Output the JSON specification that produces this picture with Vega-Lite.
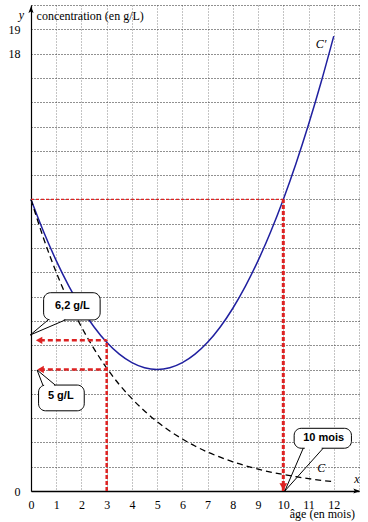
{
  "$schema": "https://vega.github.io/schema/vega-lite/v6.json",
  "width": 328,
  "height": 486,
  "autosize": "none",
  "padding": {"left": 31, "top": 5, "right": 9, "bottom": 31},
  "background": "white",
  "config": {"view": {"stroke": null}, "font": "Liberation Serif"},
  "datasets": {
    "f": [
      {"x": 0, "y": 12.0}, {"x": 0.5, "y": 10.67}, {"x": 1, "y": 9.48}, {"x": 1.5, "y": 8.43},
      {"x": 2, "y": 7.52}, {"x": 2.5, "y": 6.75}, {"x": 3, "y": 6.12}, {"x": 3.5, "y": 5.63},
      {"x": 4, "y": 5.28}, {"x": 4.5, "y": 5.07}, {"x": 5, "y": 5.0}, {"x": 5.5, "y": 5.07},
      {"x": 6, "y": 5.28}, {"x": 6.5, "y": 5.63}, {"x": 7, "y": 6.12}, {"x": 7.5, "y": 6.75},
      {"x": 8, "y": 7.52}, {"x": 8.5, "y": 8.43}, {"x": 9, "y": 9.48}, {"x": 9.5, "y": 10.67},
      {"x": 10, "y": 12.0}, {"x": 10.5, "y": 13.47}, {"x": 11, "y": 15.08}, {"x": 11.5, "y": 16.83},
      {"x": 12, "y": 18.72}
    ],
    "g": [
      {"x": 0, "y": 12.0}, {"x": 0.5, "y": 10.39}, {"x": 1, "y": 9.0}, {"x": 1.5, "y": 7.79},
      {"x": 2, "y": 6.75}, {"x": 2.5, "y": 5.85}, {"x": 3, "y": 5.06}, {"x": 3.5, "y": 4.38},
      {"x": 4, "y": 3.8}, {"x": 4.5, "y": 3.29}, {"x": 5, "y": 2.85}, {"x": 5.5, "y": 2.47},
      {"x": 6, "y": 2.14}, {"x": 6.5, "y": 1.85}, {"x": 7, "y": 1.6}, {"x": 7.5, "y": 1.39},
      {"x": 8, "y": 1.2}, {"x": 8.5, "y": 1.04}, {"x": 9, "y": 0.9}, {"x": 9.5, "y": 0.78},
      {"x": 10, "y": 0.68}, {"x": 10.5, "y": 0.59}, {"x": 11, "y": 0.51}, {"x": 11.5, "y": 0.44},
      {"x": 12, "y": 0.38}
    ]
  },
  "encoding": {
    "x": {"field": "x", "type": "quantitative", "scale": {"domain": [0, 13], "nice": false},
      "axis": {"values": [0,1,2,3,4,5,6,7,8,9,10,11,12,13], "grid": true, "gridColor": "#888", "gridDash": [1, 2], "gridWidth": 1,
        "ticks": false, "domainColor": "black", "domainWidth": 1.5, "labelFont": "Liberation Serif", "labelFontSize": 12,
        "labelColor": "black", "labelPadding": 8, "labelFlush": false, "labelOverlap": false,
        "labelExpr": "datum.value <= 12 ? datum.label : ''", "title": null}},
    "y": {"field": "y", "type": "quantitative", "scale": {"domain": [0, 20], "nice": false},
      "axis": {"values": [0,1,2,3,4,5,6,7,8,9,10,11,12,13,14,15,16,17,18,19,20], "grid": true, "gridColor": "#222", "gridDash": [1, 2], "gridWidth": 1,
        "ticks": false, "domainColor": "black", "domainWidth": 1.2, "labelFont": "Liberation Serif", "labelFontSize": 12,
        "labelColor": "black", "labelPadding": 11, "labelFlush": false, "labelOverlap": false,
        "labelExpr": "(datum.value == 19 || datum.value == 18 || datum.value == 0) ? datum.label : ''", "title": null}}
  },
  "layer": [
    {
      "data": {"name": "f"},
      "mark": {"type": "line", "color": "#2020a0", "strokeWidth": 1.5, "interpolate": "monotone"},
      "encoding": {}
    },
    {
      "data": {"name": "g"},
      "mark": {"type": "line", "color": "black", "strokeWidth": 1.3, "strokeDash": [6, 4], "interpolate": "monotone"},
      "encoding": {}
    },
    {
      "data": {"values": [{"x": 1}, {"x": 2}, {"x": 3}, {"x": 4}, {"x": 5}, {"x": 6}, {"x": 7}, {"x": 8}, {"x": 9}, {"x": 10}, {"x": 11}, {"x": 12}]},
      "mark": {"type": "rule", "color": "black", "strokeWidth": 1},
      "encoding": {
        "y": {"datum": -0.16, "type": "quantitative"},
        "y2": {"datum": 0.13}
      }
    },
    {
      "data": {"values": [{"y": 1}, {"y": 2}, {"y": 3}, {"y": 4}, {"y": 5}, {"y": 6}, {"y": 7}, {"y": 8}, {"y": 9}, {"y": 10}, {"y": 11}, {"y": 12}, {"y": 13}, {"y": 14}, {"y": 15}, {"y": 16}, {"y": 17}, {"y": 18}, {"y": 19}]},
      "mark": {"type": "rule", "color": "black", "strokeWidth": 1},
      "encoding": {
        "x": {"datum": -0.2, "type": "quantitative"},
        "x2": {"datum": 0.16}
      }
    },
    {
      "data": {"values": [{"x": 0, "x2": 10, "y": 12}]},
      "mark": {"type": "rule", "color": "#e02020", "strokeWidth": 1.2, "strokeDash": [3, 2]},
      "encoding": {"x2": {"field": "x2"}}
    },
    {
      "data": {"values": [{"x": 10, "y": 0, "y2": 12}]},
      "mark": {"type": "rule", "color": "#dd2222", "strokeWidth": 3, "strokeDash": [4, 2]},
      "encoding": {"y2": {"field": "y2"}}
    },
    {
      "data": {"values": [{"x": 3, "y": 0, "y2": 6.2}]},
      "mark": {"type": "rule", "color": "#dd2222", "strokeWidth": 2.5, "strokeDash": [4, 2]},
      "encoding": {"y2": {"field": "y2"}}
    },
    {
      "data": {"values": [{"x": 0.35, "x2": 3, "y": 6.2}, {"x": 0.35, "x2": 3, "y": 5}]},
      "mark": {"type": "rule", "color": "#dd2222", "strokeWidth": 2.5, "strokeDash": [5, 3]},
      "encoding": {"x2": {"field": "x2"}}
    },
    {
      "data": {"values": [{"x": 0.32, "y": 6.2}, {"x": 0.38, "y": 5}]},
      "mark": {"type": "point", "shape": "triangle-left", "filled": true, "color": "#dd2222", "size": 55, "opacity": 1},
      "encoding": {}
    },
    {
      "data": {"values": [{"x": 10, "y": 0.18}]},
      "mark": {"type": "point", "shape": "triangle-down", "filled": true, "color": "#dd2222", "size": 60, "opacity": 1},
      "encoding": {}
    },
    {
      "data": {"values": [{"x": 0, "y": 19.75}]},
      "mark": {"type": "point", "shape": "M0,-1L0.55,0.4L0,0.1L-0.55,0.4Z", "filled": true, "color": "black", "size": 90, "opacity": 1},
      "encoding": {}
    },
    {
      "data": {"values": [{"x": 12.85, "y": 0}]},
      "mark": {"type": "point", "shape": "M1,0L-0.4,0.55L-0.1,0L-0.4,-0.55Z", "filled": true, "color": "black", "size": 90, "opacity": 1},
      "encoding": {}
    },
    {
      "data": {"values": [
        {"id": "a", "x": 0.5, "x2": 2.74, "y": 8.16, "y2": 7.04},
        {"id": "b", "x": 0.3, "x2": 2.11, "y": 4.36, "y2": 3.3},
        {"id": "c", "x": 10.43, "x2": 12.7, "y": 2.58, "y2": 1.76}
      ]},
      "mark": {"type": "rect", "fill": "white", "stroke": "black", "strokeWidth": 1, "cornerRadius": 7},
      "encoding": {"x2": {"field": "x2"}, "y2": {"field": "y2"}}
    },
    {
      "data": {"values": [
        {"x": 0.74, "x2": 1.3, "y": 7.04},
        {"x": 0.52, "x2": 0.91, "y": 4.36},
        {"x": 10.85, "x2": 11.52, "y": 1.76}
      ]},
      "mark": {"type": "rule", "color": "white", "strokeWidth": 2.5},
      "encoding": {"x2": {"field": "x2"}}
    },
    {
      "data": {"values": [
        {"id": "a", "o": 1, "x": 0.68, "y": 7.04}, {"id": "a", "o": 2, "x": -0.03, "y": 6.42}, {"id": "a", "o": 3, "x": 1.36, "y": 7.04},
        {"id": "b", "o": 1, "x": 0.47, "y": 4.36}, {"id": "b", "o": 2, "x": 0.24, "y": 4.98}, {"id": "b", "o": 3, "x": 0.96, "y": 4.36},
        {"id": "c", "o": 1, "x": 10.79, "y": 1.76}, {"id": "c", "o": 2, "x": 10.06, "y": 0}, {"id": "c", "o": 3, "x": 11.58, "y": 1.76}
      ]},
      "mark": {"type": "line", "color": "black", "strokeWidth": 1},
      "encoding": {
        "detail": {"field": "id"},
        "order": {"field": "o"}
      }
    },
    {
      "data": {"values": [
        {"t": "6,2 g/L", "x": 1.64, "y": 7.6},
        {"t": "5 g/L", "x": 1.18, "y": 3.9},
        {"t": "10 mois", "x": 11.6, "y": 2.18}
      ]},
      "mark": {"type": "text", "font": "Liberation Sans", "fontWeight": "bold", "fontSize": 11, "color": "black", "baseline": "middle", "align": "center"},
      "encoding": {"text": {"field": "t"}}
    },
    {
      "data": {"values": [
        {"t": "concentration (en g/L)", "x": 0.22, "y": 19.55}
      ]},
      "mark": {"type": "text", "font": "Liberation Serif", "fontSize": 12, "color": "black", "baseline": "middle", "align": "left"},
      "encoding": {"text": {"field": "t"}}
    },
    {
      "data": {"values": [
        {"t": "âge (en mois)", "x": 11.55, "y": -0.93}
      ]},
      "mark": {"type": "text", "font": "Liberation Serif", "fontSize": 12, "color": "black", "baseline": "middle", "align": "center"},
      "encoding": {"text": {"field": "t"}}
    },
    {
      "data": {"values": [
        {"t": "y", "x": -0.38, "y": 19.6},
        {"t": "x", "x": 12.92, "y": 0.5},
        {"t": "C′", "x": 11.5, "y": 18.4},
        {"t": "C", "x": 11.5, "y": 0.95}
      ]},
      "mark": {"type": "text", "font": "Liberation Serif", "fontStyle": "italic", "fontSize": 12, "color": "black", "baseline": "middle", "align": "center"},
      "encoding": {"text": {"field": "t"}}
    }
  ]
}
